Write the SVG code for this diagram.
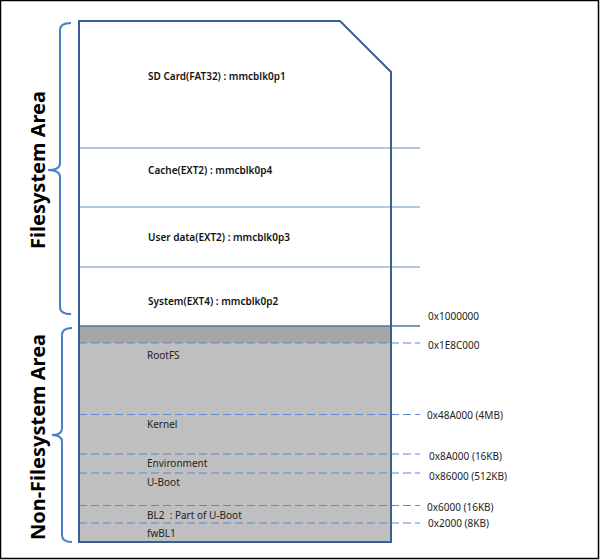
<svg xmlns="http://www.w3.org/2000/svg" width="600" height="560" viewBox="0 0 600 560">
<style>
.lbl{font-family:"Noto Sans","Open Sans",sans-serif;font-size:10px;font-weight:600;fill:#111}
.sub{font-family:"Noto Sans","Open Sans",sans-serif;font-size:10px;fill:#222}
.addr{font-family:"Noto Sans","Open Sans",sans-serif;font-size:10px;fill:#222}
.area{font-family:"Noto Sans","Open Sans",sans-serif;font-size:20px;font-weight:bold;fill:#000}
.div{stroke:#6d8fc0;stroke-width:1.2;fill:none}
.dash{stroke:#5b8ad0;stroke-width:1.2;stroke-dasharray:8,4;fill:none}
.brace{stroke:#4a7fc1;stroke-width:2;fill:none}
</style>
<rect x="0.5" y="0.5" width="598" height="558" fill="#fff" stroke="#000" stroke-width="1.5"/>
<g id="card-fill">
<rect x="79" y="326" width="312" height="17" fill="#a6a6a6"/>
<rect x="79" y="343" width="312" height="199" fill="#bfbfbf"/>
</g>
<g id="connectors">
<line class="div" x1="79" y1="148" x2="420" y2="148"/>
<line class="div" x1="79" y1="207" x2="420" y2="207"/>
<line class="div" x1="79" y1="267" x2="420" y2="267"/>
<line x1="79" y1="326" x2="420" y2="326" stroke="#4a74b0" stroke-width="1.6"/>
<line class="dash" x1="79" y1="343" x2="420" y2="343"/>
<line class="dash" x1="79" y1="414.5" x2="420" y2="414.5"/>
<line class="dash" x1="79" y1="454" x2="420" y2="454"/>
<line class="dash" x1="79" y1="473" x2="420" y2="473"/>
<line class="dash" x1="79" y1="505.5" x2="420" y2="505.5"/>
<line class="dash" x1="79" y1="523" x2="420" y2="523"/>
</g>
<g id="card">
<path d="M79,21 L340,21 L391,72 L391,542 L79,542 Z" fill="none" stroke="#3a5f95" stroke-width="2"/>
</g>
<g id="partitions">
<text class="lbl" x="148" y="80">SD Card(FAT32) : mmcblk0p1</text>
<text class="lbl" x="148" y="174">Cache(EXT2) : mmcblk0p4</text>
<text class="lbl" x="148" y="240.5">User data(EXT2) : mmcblk0p3</text>
<text class="lbl" x="148" y="304.5">System(EXT4) : mmcblk0p2</text>
<text class="sub" x="147" y="359">RootFS</text>
<text class="sub" x="147" y="428">Kernel</text>
<text class="sub" x="147" y="467">Environment</text>
<text class="sub" x="147" y="486">U-Boot</text>
<text class="sub" x="147" y="519" xml:space="preserve">BL2  : Part of U-Boot</text>
<text class="sub" x="147" y="537">fwBL1</text>
</g>
<g id="addresses">
<text class="addr" x="428" y="320">0x1000000</text>
<text class="addr" x="428" y="348.5">0x1E8C000</text>
<text class="addr" x="427" y="418.5">0x48A000 (4MB)</text>
<text class="addr" x="429" y="459.5">0x8A000 (16KB)</text>
<text class="addr" x="429" y="479.5">0x86000 (512KB)</text>
<text class="addr" x="427" y="511">0x6000 (16KB)</text>
<text class="addr" x="428" y="526.5">0x2000 (8KB)</text>
</g>
<g id="filesystem-area">
<path class="brace" d="M71,23 Q60,23 60,30 L60,163 Q60,170 48,170 Q60,170 60,177 L60,307 Q60,314 71,314"/>
<text class="area" transform="translate(45,170) rotate(-90)" text-anchor="middle">Filesystem Area</text>
</g>
<g id="non-filesystem-area">
<path class="brace" d="M72,328 Q62,328 62,335 L62,428 Q62,435 52,435 Q62,435 62,442 L62,535 Q62,542 72,542"/>
<text class="area" transform="translate(45,437) rotate(-90)" text-anchor="middle">Non-Filesystem Area</text>
</g>
</svg>
